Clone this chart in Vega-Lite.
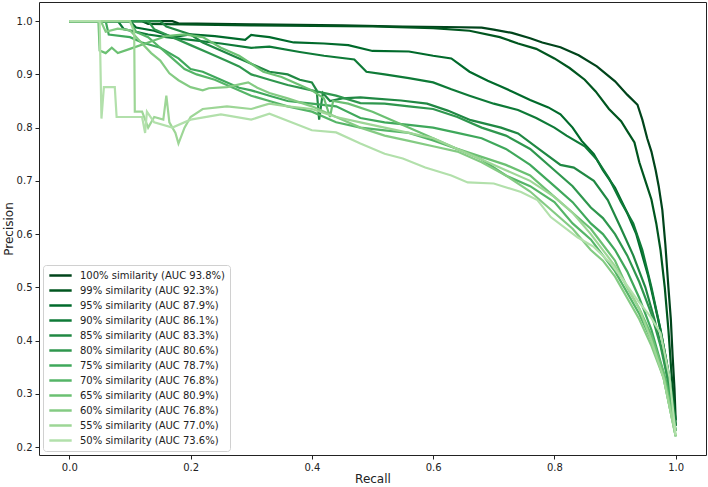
{
  "$schema": "https://vega.github.io/schema/vega-lite/v6.json",
  "width": 667,
  "height": 453,
  "autosize": {"type": "none"},
  "padding": {"left": 39, "top": 2, "right": 2, "bottom": 32},
  "background": "white",
  "config": {
    "view": {"stroke": "#222", "strokeWidth": 1},
    "font": "DejaVu Sans",
    "axis": {"labelFont": "DejaVu Sans", "titleFont": "DejaVu Sans", "labelColor": "#222", "titleColor": "#222", "tickColor": "#222", "titleFontWeight": "normal"}
  },
  "datasets": {
    "names": [
      {"k": 100, "name": "100% similarity (AUC 93.8%)"},
      {"k": 99, "name": "99% similarity (AUC 92.3%)"},
      {"k": 95, "name": "95% similarity (AUC 87.9%)"},
      {"k": 90, "name": "90% similarity (AUC 86.1%)"},
      {"k": 85, "name": "85% similarity (AUC 83.3%)"},
      {"k": 80, "name": "80% similarity (AUC 80.6%)"},
      {"k": 75, "name": "75% similarity (AUC 78.7%)"},
      {"k": 70, "name": "70% similarity (AUC 76.8%)"},
      {"k": 65, "name": "65% similarity (AUC 80.9%)"},
      {"k": 60, "name": "60% similarity (AUC 76.8%)"},
      {"k": 55, "name": "55% similarity (AUC 77.0%)"},
      {"k": 50, "name": "50% similarity (AUC 73.6%)"}
    ],
    "pr": [
      {"k":100,"r":0,"p":1},{"k":100,"r":0.17,"p":1},{"k":100,"r":0.18,"p":0.996},{"k":100,"r":0.3,"p":0.994},{"k":100,"r":0.45,"p":0.992},{"k":100,"r":0.55,"p":0.99},{"k":100,"r":0.62,"p":0.989},{"k":100,"r":0.68,"p":0.988},{"k":100,"r":0.7,"p":0.984},{"k":100,"r":0.73,"p":0.978},{"k":100,"r":0.76,"p":0.968},{"k":100,"r":0.78,"p":0.96},{"k":100,"r":0.81,"p":0.951},{"k":100,"r":0.84,"p":0.936},{"k":100,"r":0.87,"p":0.915},{"k":100,"r":0.9,"p":0.887},{"k":100,"r":0.92,"p":0.862},{"k":100,"r":0.937,"p":0.843},{"k":100,"r":0.945,"p":0.815},{"k":100,"r":0.953,"p":0.78},{"k":100,"r":0.96,"p":0.755},{"k":100,"r":0.967,"p":0.72},{"k":100,"r":0.972,"p":0.69},{"k":100,"r":0.978,"p":0.645},{"k":100,"r":0.983,"p":0.58},{"k":100,"r":0.988,"p":0.5},{"k":100,"r":0.992,"p":0.44},{"k":100,"r":0.995,"p":0.37},{"k":100,"r":0.998,"p":0.31},{"k":100,"r":1.0,"p":0.25},
      {"k":99,"r":0,"p":1},{"k":99,"r":0.12,"p":1},{"k":99,"r":0.13,"p":0.995},{"k":99,"r":0.3,"p":0.992},{"k":99,"r":0.5,"p":0.99},{"k":99,"r":0.6,"p":0.987},{"k":99,"r":0.66,"p":0.982},{"k":99,"r":0.71,"p":0.97},{"k":99,"r":0.74,"p":0.958},{"k":99,"r":0.77,"p":0.948},{"k":99,"r":0.8,"p":0.93},{"k":99,"r":0.825,"p":0.912},{"k":99,"r":0.85,"p":0.89},{"k":99,"r":0.868,"p":0.868},{"k":99,"r":0.89,"p":0.835},{"k":99,"r":0.91,"p":0.812},{"k":99,"r":0.922,"p":0.79},{"k":99,"r":0.932,"p":0.772},{"k":99,"r":0.94,"p":0.735},{"k":99,"r":0.95,"p":0.7},{"k":99,"r":0.96,"p":0.665},{"k":99,"r":0.968,"p":0.62},{"k":99,"r":0.975,"p":0.57},{"k":99,"r":0.982,"p":0.5},{"k":99,"r":0.988,"p":0.42},{"k":99,"r":0.993,"p":0.34},{"k":99,"r":0.997,"p":0.29},{"k":99,"r":1.0,"p":0.24},
      {"k":95,"r":0,"p":1},{"k":95,"r":0.1,"p":1},{"k":95,"r":0.11,"p":0.988},{"k":95,"r":0.14,"p":0.982},{"k":95,"r":0.17,"p":0.97},{"k":95,"r":0.2,"p":0.975},{"k":95,"r":0.24,"p":0.972},{"k":95,"r":0.29,"p":0.965},{"k":95,"r":0.3,"p":0.974},{"k":95,"r":0.33,"p":0.97},{"k":95,"r":0.37,"p":0.96},{"k":95,"r":0.42,"p":0.958},{"k":95,"r":0.46,"p":0.955},{"k":95,"r":0.5,"p":0.944},{"k":95,"r":0.56,"p":0.943},{"k":95,"r":0.6,"p":0.935},{"k":95,"r":0.63,"p":0.93},{"k":95,"r":0.66,"p":0.905},{"k":95,"r":0.69,"p":0.888},{"k":95,"r":0.71,"p":0.878},{"k":95,"r":0.73,"p":0.868},{"k":95,"r":0.76,"p":0.852},{"k":95,"r":0.79,"p":0.838},{"k":95,"r":0.81,"p":0.825},{"k":95,"r":0.83,"p":0.8},{"k":95,"r":0.845,"p":0.775},{"k":95,"r":0.865,"p":0.75},{"k":95,"r":0.88,"p":0.72},{"k":95,"r":0.9,"p":0.687},{"k":95,"r":0.92,"p":0.64},{"k":95,"r":0.935,"p":0.6},{"k":95,"r":0.945,"p":0.56},{"k":95,"r":0.955,"p":0.52},{"k":95,"r":0.965,"p":0.47},{"k":95,"r":0.975,"p":0.42},{"k":95,"r":0.985,"p":0.36},{"k":95,"r":0.993,"p":0.3},{"k":95,"r":1.0,"p":0.24},
      {"k":90,"r":0,"p":1},{"k":90,"r":0.08,"p":1},{"k":90,"r":0.09,"p":0.985},{"k":90,"r":0.13,"p":0.975},{"k":90,"r":0.16,"p":0.97},{"k":90,"r":0.2,"p":0.965},{"k":90,"r":0.25,"p":0.958},{"k":90,"r":0.3,"p":0.95},{"k":90,"r":0.33,"p":0.952},{"k":90,"r":0.38,"p":0.942},{"k":90,"r":0.42,"p":0.935},{"k":90,"r":0.47,"p":0.928},{"k":90,"r":0.49,"p":0.905},{"k":90,"r":0.52,"p":0.9},{"k":90,"r":0.56,"p":0.893},{"k":90,"r":0.6,"p":0.885},{"k":90,"r":0.63,"p":0.872},{"k":90,"r":0.66,"p":0.86},{"k":90,"r":0.7,"p":0.845},{"k":90,"r":0.74,"p":0.833},{"k":90,"r":0.77,"p":0.818},{"k":90,"r":0.8,"p":0.8},{"k":90,"r":0.82,"p":0.785},{"k":90,"r":0.85,"p":0.765},{"k":90,"r":0.87,"p":0.74},{"k":90,"r":0.89,"p":0.705},{"k":90,"r":0.91,"p":0.66},{"k":90,"r":0.93,"p":0.62},{"k":90,"r":0.945,"p":0.57},{"k":90,"r":0.96,"p":0.5},{"k":90,"r":0.975,"p":0.42},{"k":90,"r":0.99,"p":0.33},{"k":90,"r":1.0,"p":0.25},
      {"k":85,"r":0,"p":1},{"k":85,"r":0.15,"p":1},{"k":85,"r":0.16,"p":0.99},{"k":85,"r":0.2,"p":0.975},{"k":85,"r":0.22,"p":0.96},{"k":85,"r":0.25,"p":0.945},{"k":85,"r":0.28,"p":0.93},{"k":85,"r":0.3,"p":0.92},{"k":85,"r":0.33,"p":0.905},{"k":85,"r":0.36,"p":0.9},{"k":85,"r":0.38,"p":0.89},{"k":85,"r":0.4,"p":0.885},{"k":85,"r":0.408,"p":0.87},{"k":85,"r":0.412,"p":0.815},{"k":85,"r":0.418,"p":0.865},{"k":85,"r":0.43,"p":0.85},{"k":85,"r":0.45,"p":0.855},{"k":85,"r":0.48,"p":0.857},{"k":85,"r":0.5,"p":0.855},{"k":85,"r":0.547,"p":0.851},{"k":85,"r":0.59,"p":0.845},{"k":85,"r":0.624,"p":0.832},{"k":85,"r":0.662,"p":0.814},{"k":85,"r":0.712,"p":0.8},{"k":85,"r":0.74,"p":0.789},{"k":85,"r":0.778,"p":0.757},{"k":85,"r":0.81,"p":0.73},{"k":85,"r":0.832,"p":0.725},{"k":85,"r":0.865,"p":0.7},{"k":85,"r":0.888,"p":0.664},{"k":85,"r":0.909,"p":0.613},{"k":85,"r":0.93,"p":0.56},{"k":85,"r":0.95,"p":0.5},{"k":85,"r":0.965,"p":0.44},{"k":85,"r":0.98,"p":0.37},{"k":85,"r":0.99,"p":0.31},{"k":85,"r":1.0,"p":0.24},
      {"k":80,"r":0,"p":1},{"k":80,"r":0.13,"p":1},{"k":80,"r":0.14,"p":0.985},{"k":80,"r":0.17,"p":0.97},{"k":80,"r":0.2,"p":0.955},{"k":80,"r":0.23,"p":0.94},{"k":80,"r":0.26,"p":0.925},{"k":80,"r":0.28,"p":0.915},{"k":80,"r":0.3,"p":0.9},{"k":80,"r":0.33,"p":0.89},{"k":80,"r":0.36,"p":0.88},{"k":80,"r":0.4,"p":0.87},{"k":80,"r":0.44,"p":0.86},{"k":80,"r":0.48,"p":0.846},{"k":80,"r":0.52,"p":0.845},{"k":80,"r":0.56,"p":0.84},{"k":80,"r":0.6,"p":0.835},{"k":80,"r":0.64,"p":0.82},{"k":80,"r":0.68,"p":0.8},{"k":80,"r":0.72,"p":0.785},{"k":80,"r":0.76,"p":0.76},{"k":80,"r":0.8,"p":0.72},{"k":80,"r":0.83,"p":0.69},{"k":80,"r":0.86,"p":0.65},{"k":80,"r":0.88,"p":0.63},{"k":80,"r":0.9,"p":0.6},{"k":80,"r":0.92,"p":0.56},{"k":80,"r":0.94,"p":0.51},{"k":80,"r":0.96,"p":0.45},{"k":80,"r":0.975,"p":0.39},{"k":80,"r":0.99,"p":0.31},{"k":80,"r":1.0,"p":0.23},
      {"k":75,"r":0,"p":1},{"k":75,"r":0.06,"p":1},{"k":75,"r":0.065,"p":0.975},{"k":75,"r":0.1,"p":0.97},{"k":75,"r":0.12,"p":0.96},{"k":75,"r":0.15,"p":0.95},{"k":75,"r":0.18,"p":0.93},{"k":75,"r":0.2,"p":0.91},{"k":75,"r":0.22,"p":0.905},{"k":75,"r":0.25,"p":0.89},{"k":75,"r":0.28,"p":0.875},{"k":75,"r":0.3,"p":0.87},{"k":75,"r":0.33,"p":0.86},{"k":75,"r":0.36,"p":0.85},{"k":75,"r":0.4,"p":0.845},{"k":75,"r":0.44,"p":0.84},{"k":75,"r":0.48,"p":0.818},{"k":75,"r":0.52,"p":0.81},{"k":75,"r":0.56,"p":0.805},{"k":75,"r":0.6,"p":0.8},{"k":75,"r":0.64,"p":0.79},{"k":75,"r":0.68,"p":0.78},{"k":75,"r":0.72,"p":0.76},{"k":75,"r":0.76,"p":0.73},{"k":75,"r":0.8,"p":0.69},{"k":75,"r":0.83,"p":0.66},{"k":75,"r":0.86,"p":0.62},{"k":75,"r":0.88,"p":0.6},{"k":75,"r":0.9,"p":0.57},{"k":75,"r":0.92,"p":0.53},{"k":75,"r":0.94,"p":0.48},{"k":75,"r":0.96,"p":0.42},{"k":75,"r":0.975,"p":0.36},{"k":75,"r":0.99,"p":0.3},{"k":75,"r":1.0,"p":0.23},
      {"k":70,"r":0,"p":1},{"k":70,"r":0.1,"p":1},{"k":70,"r":0.11,"p":0.98},{"k":70,"r":0.13,"p":0.97},{"k":70,"r":0.15,"p":0.95},{"k":70,"r":0.17,"p":0.93},{"k":70,"r":0.19,"p":0.91},{"k":70,"r":0.21,"p":0.9},{"k":70,"r":0.24,"p":0.89},{"k":70,"r":0.27,"p":0.875},{"k":70,"r":0.3,"p":0.86},{"k":70,"r":0.33,"p":0.85},{"k":70,"r":0.36,"p":0.84},{"k":70,"r":0.4,"p":0.83},{"k":70,"r":0.44,"p":0.81},{"k":70,"r":0.48,"p":0.8},{"k":70,"r":0.52,"p":0.795},{"k":70,"r":0.56,"p":0.79},{"k":70,"r":0.6,"p":0.776},{"k":70,"r":0.64,"p":0.76},{"k":70,"r":0.68,"p":0.74},{"k":70,"r":0.72,"p":0.71},{"k":70,"r":0.76,"p":0.69},{"k":70,"r":0.8,"p":0.66},{"k":70,"r":0.83,"p":0.62},{"k":70,"r":0.86,"p":0.59},{"k":70,"r":0.88,"p":0.56},{"k":70,"r":0.9,"p":0.53},{"k":70,"r":0.92,"p":0.49},{"k":70,"r":0.94,"p":0.45},{"k":70,"r":0.96,"p":0.4},{"k":70,"r":0.98,"p":0.33},{"k":70,"r":1.0,"p":0.22},
      {"k":65,"r":0,"p":1},{"k":65,"r":0.048,"p":1},{"k":65,"r":0.05,"p":0.945},{"k":65,"r":0.06,"p":0.94},{"k":65,"r":0.07,"p":0.95},{"k":65,"r":0.08,"p":0.94},{"k":65,"r":0.1,"p":0.948},{"k":65,"r":0.13,"p":0.96},{"k":65,"r":0.16,"p":0.972},{"k":65,"r":0.19,"p":0.975},{"k":65,"r":0.22,"p":0.97},{"k":65,"r":0.25,"p":0.95},{"k":65,"r":0.28,"p":0.935},{"k":65,"r":0.3,"p":0.92},{"k":65,"r":0.32,"p":0.905},{"k":65,"r":0.35,"p":0.895},{"k":65,"r":0.38,"p":0.88},{"k":65,"r":0.4,"p":0.87},{"k":65,"r":0.42,"p":0.855},{"k":65,"r":0.43,"p":0.82},{"k":65,"r":0.435,"p":0.85},{"k":65,"r":0.46,"p":0.845},{"k":65,"r":0.5,"p":0.83},{"k":65,"r":0.55,"p":0.805},{"k":65,"r":0.6,"p":0.78},{"k":65,"r":0.64,"p":0.76},{"k":65,"r":0.68,"p":0.745},{"k":65,"r":0.72,"p":0.73},{"k":65,"r":0.76,"p":0.71},{"k":65,"r":0.8,"p":0.67},{"k":65,"r":0.83,"p":0.64},{"k":65,"r":0.86,"p":0.61},{"k":65,"r":0.88,"p":0.58},{"k":65,"r":0.9,"p":0.55},{"k":65,"r":0.92,"p":0.5},{"k":65,"r":0.94,"p":0.46},{"k":65,"r":0.96,"p":0.41},{"k":65,"r":0.98,"p":0.34},{"k":65,"r":1.0,"p":0.23},
      {"k":60,"r":0,"p":1},{"k":60,"r":0.052,"p":1},{"k":60,"r":0.06,"p":0.98},{"k":60,"r":0.08,"p":0.986},{"k":60,"r":0.1,"p":0.983},{"k":60,"r":0.12,"p":0.958},{"k":60,"r":0.135,"p":0.94},{"k":60,"r":0.15,"p":0.926},{"k":60,"r":0.165,"p":0.902},{"k":60,"r":0.18,"p":0.889},{"k":60,"r":0.2,"p":0.876},{"k":60,"r":0.22,"p":0.87},{"k":60,"r":0.23,"p":0.874},{"k":60,"r":0.26,"p":0.876},{"k":60,"r":0.295,"p":0.885},{"k":60,"r":0.31,"p":0.875},{"k":60,"r":0.33,"p":0.865},{"k":60,"r":0.36,"p":0.855},{"k":60,"r":0.4,"p":0.84},{"k":60,"r":0.44,"p":0.82},{"k":60,"r":0.48,"p":0.8},{"k":60,"r":0.52,"p":0.785},{"k":60,"r":0.56,"p":0.775},{"k":60,"r":0.6,"p":0.765},{"k":60,"r":0.64,"p":0.755},{"k":60,"r":0.68,"p":0.735},{"k":60,"r":0.72,"p":0.71},{"k":60,"r":0.76,"p":0.68},{"k":60,"r":0.8,"p":0.64},{"k":60,"r":0.83,"p":0.61},{"k":60,"r":0.86,"p":0.57},{"k":60,"r":0.88,"p":0.55},{"k":60,"r":0.9,"p":0.52},{"k":60,"r":0.92,"p":0.48},{"k":60,"r":0.94,"p":0.44},{"k":60,"r":0.96,"p":0.39},{"k":60,"r":0.98,"p":0.33},{"k":60,"r":1.0,"p":0.22},
      {"k":55,"r":0,"p":1},{"k":55,"r":0.1,"p":1},{"k":55,"r":0.107,"p":0.98},{"k":55,"r":0.108,"p":0.83},{"k":55,"r":0.12,"p":0.83},{"k":55,"r":0.13,"p":0.8},{"k":55,"r":0.14,"p":0.82},{"k":55,"r":0.155,"p":0.815},{"k":55,"r":0.16,"p":0.86},{"k":55,"r":0.165,"p":0.81},{"k":55,"r":0.175,"p":0.79},{"k":55,"r":0.18,"p":0.77},{"k":55,"r":0.19,"p":0.8},{"k":55,"r":0.2,"p":0.82},{"k":55,"r":0.22,"p":0.835},{"k":55,"r":0.26,"p":0.84},{"k":55,"r":0.3,"p":0.835},{"k":55,"r":0.33,"p":0.845},{"k":55,"r":0.36,"p":0.84},{"k":55,"r":0.4,"p":0.835},{"k":55,"r":0.44,"p":0.82},{"k":55,"r":0.48,"p":0.81},{"k":55,"r":0.52,"p":0.8},{"k":55,"r":0.56,"p":0.79},{"k":55,"r":0.6,"p":0.78},{"k":55,"r":0.64,"p":0.76},{"k":55,"r":0.68,"p":0.74},{"k":55,"r":0.72,"p":0.72},{"k":55,"r":0.76,"p":0.7},{"k":55,"r":0.8,"p":0.67},{"k":55,"r":0.83,"p":0.64},{"k":55,"r":0.86,"p":0.6},{"k":55,"r":0.88,"p":0.57},{"k":55,"r":0.9,"p":0.54},{"k":55,"r":0.92,"p":0.5},{"k":55,"r":0.94,"p":0.46},{"k":55,"r":0.96,"p":0.4},{"k":55,"r":0.98,"p":0.33},{"k":55,"r":1.0,"p":0.22},
      {"k":50,"r":0,"p":1},{"k":50,"r":0.05,"p":1},{"k":50,"r":0.053,"p":0.817},{"k":50,"r":0.057,"p":0.876},{"k":50,"r":0.075,"p":0.876},{"k":50,"r":0.078,"p":0.82},{"k":50,"r":0.12,"p":0.82},{"k":50,"r":0.125,"p":0.79},{"k":50,"r":0.128,"p":0.83},{"k":50,"r":0.14,"p":0.81},{"k":50,"r":0.17,"p":0.8},{"k":50,"r":0.2,"p":0.815},{"k":50,"r":0.25,"p":0.825},{"k":50,"r":0.3,"p":0.815},{"k":50,"r":0.33,"p":0.826},{"k":50,"r":0.4,"p":0.795},{"k":50,"r":0.44,"p":0.791},{"k":50,"r":0.48,"p":0.77},{"k":50,"r":0.52,"p":0.751},{"k":50,"r":0.55,"p":0.742},{"k":50,"r":0.587,"p":0.725},{"k":50,"r":0.63,"p":0.71},{"k":50,"r":0.657,"p":0.697},{"k":50,"r":0.7,"p":0.695},{"k":50,"r":0.745,"p":0.679},{"k":50,"r":0.772,"p":0.664},{"k":50,"r":0.794,"p":0.632},{"k":50,"r":0.838,"p":0.594},{"k":50,"r":0.865,"p":0.576},{"k":50,"r":0.893,"p":0.545},{"k":50,"r":0.914,"p":0.513},{"k":50,"r":0.937,"p":0.476},{"k":50,"r":0.959,"p":0.444},{"k":50,"r":0.975,"p":0.414},{"k":50,"r":0.99,"p":0.33},{"k":50,"r":1.0,"p":0.223}
    ]
  },
  "data": {"name": "pr"},
  "transform": [
    {"lookup": "k", "from": {"data": {"name": "names"}, "key": "k", "fields": ["name"]}}
  ],
  "mark": {"type": "line", "strokeWidth": 2.2, "clip": true},
  "encoding": {
    "x": {
      "field": "r", "type": "quantitative",
      "scale": {"domain": [-0.05, 1.05], "nice": false, "zero": false},
      "axis": {"title": "Recall", "values": [0, 0.2, 0.4, 0.6, 0.8, 1.0], "format": ".1f", "grid": false, "domain": false, "tickSize": 4, "labelPadding": 3, "labelFontSize": 10, "titleFontSize": 12, "titlePadding": 1}
    },
    "y": {
      "field": "p", "type": "quantitative",
      "scale": {"domain": [0.185, 1.036], "nice": false, "zero": false},
      "axis": {"title": "Precision", "values": [0.2, 0.3, 0.4, 0.5, 0.6, 0.7, 0.8, 0.9, 1.0], "format": ".1f", "grid": false, "domain": false, "tickSize": 4, "labelPadding": 3, "labelFontSize": 10, "titleFontSize": 12, "titlePadding": 1}
    },
    "color": {
      "field": "name", "type": "nominal",
      "scale": {
        "domain": ["100% similarity (AUC 93.8%)", "99% similarity (AUC 92.3%)", "95% similarity (AUC 87.9%)", "90% similarity (AUC 86.1%)", "85% similarity (AUC 83.3%)", "80% similarity (AUC 80.6%)", "75% similarity (AUC 78.7%)", "70% similarity (AUC 76.8%)", "65% similarity (AUC 80.9%)", "60% similarity (AUC 76.8%)", "55% similarity (AUC 77.0%)", "50% similarity (AUC 73.6%)"],
        "range": ["#00441b", "#00561f", "#006a2b", "#0e7a37", "#208843", "#2f974e", "#3fa85b", "#55b567", "#6bc072", "#84cb83", "#9dd696", "#b2e0ab"]
      },
      "legend": {
        "title": null, "orient": "bottom-left", "offset": 4,
        "symbolType": "stroke", "symbolSize": 500, "symbolStrokeWidth": 2.5,
        "labelFontSize": 10, "labelFont": "DejaVu Sans", "labelColor": "#222", "labelOffset": 7, "labelLimit": 300,
        "clipHeight": 11, "rowPadding": 4, "padding": 5,
        "fillColor": "white", "strokeColor": "#d0d0d0", "cornerRadius": 3
      }
    }
  }
}
